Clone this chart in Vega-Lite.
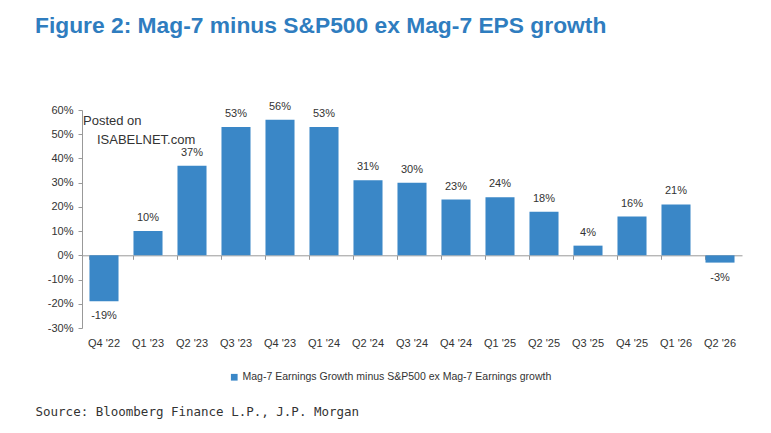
{
  "$schema": "https://vega.github.io/schema/vega-lite/v6.json",
  "autosize": "none",
  "width": 660,
  "height": 218,
  "padding": {"left": 82, "top": 110, "right": 29, "bottom": 105},
  "background": "white",
  "title": {
    "text": "Figure 2: Mag-7 minus S&P500 ex Mag-7 EPS growth",
    "anchor": "start",
    "frame": "group",
    "dx": -47,
    "offset": 63,
    "fontSize": 22.8,
    "font": "Liberation Sans Narrow, Arial Narrow, Liberation Sans",
    "fontWeight": "bold",
    "color": "#2f7dbf"
  },
  "data": {
    "values": [
      {"quarter": "Q4 '22", "value": -0.19},
      {"quarter": "Q1 '23", "value": 0.10},
      {"quarter": "Q2 '23", "value": 0.37},
      {"quarter": "Q3 '23", "value": 0.53},
      {"quarter": "Q4 '23", "value": 0.56},
      {"quarter": "Q1 '24", "value": 0.53},
      {"quarter": "Q2 '24", "value": 0.31},
      {"quarter": "Q3 '24", "value": 0.30},
      {"quarter": "Q4 '24", "value": 0.23},
      {"quarter": "Q1 '25", "value": 0.24},
      {"quarter": "Q2 '25", "value": 0.18},
      {"quarter": "Q3 '25", "value": 0.04},
      {"quarter": "Q4 '25", "value": 0.16},
      {"quarter": "Q1 '26", "value": 0.21},
      {"quarter": "Q2 '26", "value": -0.03}
    ]
  },
  "config": {
    "view": {"stroke": null},
    "font": "Liberation Sans Narrow, Arial Narrow, Liberation Sans",
    "axis": {"grid": false, "labelOverlap": false},
    "locale": {
      "number": {
        "decimal": ".",
        "thousands": ",",
        "grouping": [3],
        "currency": ["$", ""],
        "minus": "-",
        "percent": "%"
      }
    }
  },
  "resolve": {"axis": {"x": "independent", "y": "independent"}},
  "layer": [
    {
      "mark": {"type": "bar", "color": "#3a87c7"},
      "encoding": {
        "x": {
          "field": "quarter",
          "type": "nominal",
          "sort": null,
          "scale": {"paddingInner": 0.34, "paddingOuter": 0.17},
          "axis": {
            "domain": false,
            "ticks": false,
            "labelAngle": 0,
            "labelPadding": 9,
            "labelFontSize": 11,
            "labelColor": "#333333",
            "title": "Source: Bloomberg Finance L.P., J.P. Morgan",
            "titleX": -47,
            "titleY": 83,
            "titleAlign": "left",
            "titleAnchor": "start",
            "titleBaseline": "middle",
            "titleFont": "DejaVu Sans Mono",
            "titleFontSize": 12.5,
            "titleFontWeight": "normal",
            "titleColor": "#333333"
          }
        },
        "y": {
          "field": "value",
          "type": "quantitative",
          "scale": {"domain": [-0.3, 0.6], "nice": false},
          "axis": {
            "values": [-0.3, -0.2, -0.1, 0, 0.1, 0.2, 0.3, 0.4, 0.5, 0.6],
            "format": ".0%",
            "labelOverlap": false,
            "domainColor": "#999999",
            "tickColor": "#999999",
            "tickSize": 4,
            "labelPadding": 5,
            "labelFontSize": 11,
            "labelColor": "#333333",
            "title": null
          }
        },
        "fill": {
          "datum": "Mag-7 Earnings Growth minus S&P500 ex Mag-7 Earnings growth",
          "type": "nominal",
          "scale": {"range": ["#3a87c7"]},
          "legend": {
            "title": null,
            "orient": "none",
            "legendX": 147,
            "legendY": 262,
            "padding": 0,
            "symbolType": "square",
            "symbolSize": 45,
            "symbolStrokeWidth": 0,
            "labelFontSize": 10.5,
            "labelLimit": 0,
            "labelColor": "#333333",
            "labelOffset": 3
          }
        }
      }
    },
    {
      "transform": [{"filter": "datum.value >= 0"}],
      "mark": {"type": "text", "baseline": "middle", "dy": -13, "fontSize": 11, "color": "#333333"},
      "encoding": {
        "x": {
          "field": "quarter",
          "type": "nominal",
          "sort": null,
          "axis": {
            "orient": "top",
            "offset": -145.3,
            "labels": false,
            "domain": true,
            "domainColor": "#999999",
            "ticks": true,
            "tickColor": "#999999",
            "tickSize": -4,
            "bandPosition": 0,
            "title": null
          }
        },
        "y": {"field": "value", "type": "quantitative", "axis": null},
        "text": {"field": "value", "type": "quantitative", "format": ".0%"}
      }
    },
    {
      "transform": [{"filter": "datum.value < 0"}],
      "mark": {"type": "text", "baseline": "middle", "dy": 15, "fontSize": 11, "color": "#333333"},
      "encoding": {
        "x": {"field": "quarter", "type": "nominal", "sort": null, "axis": null},
        "y": {"field": "value", "type": "quantitative", "axis": null},
        "text": {"field": "value", "type": "quantitative", "format": ".0%"}
      }
    },
    {
      "data": {"values": [{"note": "Posted on"}]},
      "mark": {"type": "text", "align": "left", "baseline": "middle", "dx": -21, "fontSize": 13, "color": "#333333"},
      "encoding": {
        "x": {"datum": "Q4 '22", "type": "nominal", "axis": null},
        "y": {"datum": 0.553, "type": "quantitative", "axis": null},
        "text": {"field": "note", "type": "nominal"}
      }
    },
    {
      "data": {"values": [{"note": "ISABELNET.com"}]},
      "mark": {"type": "text", "align": "left", "baseline": "middle", "dx": -7, "fontSize": 13, "color": "#333333"},
      "encoding": {
        "x": {"datum": "Q4 '22", "type": "nominal", "axis": null},
        "y": {"datum": 0.478, "type": "quantitative", "axis": null},
        "text": {"field": "note", "type": "nominal"}
      }
    }
  ]
}
